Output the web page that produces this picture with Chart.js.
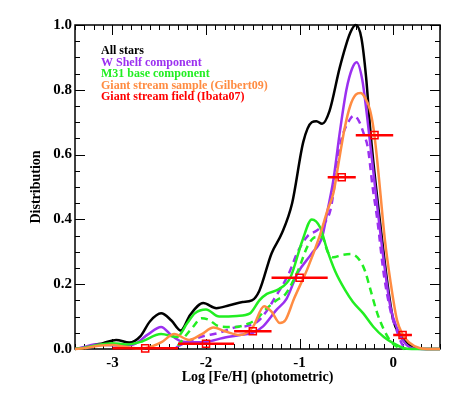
<!DOCTYPE html>
<html>
<head>
<meta charset="utf-8">
<script src="https://cdn.jsdelivr.net/npm/chart.js@4/dist/chart.umd.min.js"></script>
<style>
  html, body { margin: 0; padding: 0; background: #fff; }
</style>
</head>
<body>
<canvas id="mdfChart" width="463" height="397"></canvas>
<script>
// [Fe/H] , distribution
const allStars = [[-3.4,0],[-3.3,0.004],[-3.2,0.012],[-3.1,0.018],[-2.96,0.028],[-2.82,0.02],[-2.7,0.04],[-2.6,0.085],[-2.48,0.11],[-2.37,0.088],[-2.27,0.057],[-2.17,0.105],[-2.03,0.142],[-1.89,0.126],[-1.75,0.135],[-1.61,0.145],[-1.51,0.15],[-1.43,0.18],[-1.3,0.295],[-1.19,0.357],[-1.08,0.45],[-0.96,0.64],[-0.87,0.70],[-0.82,0.703],[-0.76,0.695],[-0.68,0.735],[-0.57,0.87],[-0.46,0.975],[-0.4,1.0],[-0.34,0.96],[-0.29,0.84],[-0.24,0.66],[-0.18,0.49],[-0.12,0.34],[-0.065,0.21],[0,0.09],[0.07,0.045],[0.15,0.018],[0.25,0.002],[0.35,0],[0.5,0]];

const wShelf = [[-3.4,0],[-3.3,0.006],[-3.2,0.014],[-3.05,0.012],[-2.9,0.01],[-2.76,0.016],[-2.62,0.045],[-2.48,0.068],[-2.37,0.042],[-2.27,0.024],[-2.15,0.021],[-2.0,0.022],[-1.82,0.034],[-1.64,0.043],[-1.5,0.05],[-1.39,0.07],[-1.25,0.12],[-1.14,0.155],[-1.02,0.235],[-0.87,0.295],[-0.76,0.345],[-0.7,0.43],[-0.64,0.52],[-0.57,0.67],[-0.5,0.8],[-0.44,0.865],[-0.39,0.885],[-0.33,0.83],[-0.28,0.72],[-0.19,0.49],[-0.1,0.27],[-0.03,0.13],[0.04,0.065],[0.1,0.028],[0.18,0.005],[0.3,0],[0.5,0]];

const wShelfAlt = [[-2.32,0.005],[-2.2,0.022],[-2.05,0.038],[-1.86,0.05],[-1.7,0.066],[-1.55,0.072],[-1.45,0.085],[-1.37,0.11],[-1.26,0.16],[-1.12,0.23],[-1.02,0.3],[-0.91,0.35],[-0.82,0.365],[-0.73,0.39],[-0.67,0.43],[-0.63,0.5],[-0.6,0.57],[-0.55,0.65],[-0.48,0.70],[-0.42,0.72],[-0.36,0.7],[-0.31,0.66],[-0.27,0.62],[-0.22,0.5],[-0.17,0.4],[-0.1,0.23],[-0.03,0.12],[0.04,0.055],[0.1,0.012],[0.16,0]];

const m31Base = [[-3.4,0],[-3.3,0.004],[-3.2,0.01],[-3.0,0.018],[-2.85,0.014],[-2.7,0.022],[-2.48,0.046],[-2.31,0.037],[-2.2,0.08],[-2.12,0.11],[-2.0,0.122],[-1.86,0.1],[-1.67,0.102],[-1.53,0.11],[-1.43,0.15],[-1.35,0.17],[-1.22,0.185],[-1.1,0.22],[-0.97,0.335],[-0.87,0.4],[-0.78,0.375],[-0.71,0.31],[-0.62,0.24],[-0.51,0.18],[-0.43,0.145],[-0.32,0.11],[-0.21,0.068],[-0.1,0.037],[0,0.018],[0.1,0.004],[0.2,0],[0.5,0]];

const m31BaseAlt = [[-2.3,0.01],[-2.22,0.04],[-2.14,0.068],[-2.05,0.095],[-1.97,0.09],[-1.86,0.07],[-1.7,0.068],[-1.55,0.078],[-1.45,0.095],[-1.37,0.12],[-1.25,0.15],[-1.15,0.17],[-1.02,0.24],[-0.91,0.32],[-0.83,0.345],[-0.76,0.345],[-0.7,0.3],[-0.64,0.283],[-0.55,0.29],[-0.45,0.293],[-0.36,0.275],[-0.3,0.24],[-0.25,0.19],[-0.17,0.11],[-0.1,0.06],[-0.03,0.025],[0.05,0.005],[0.12,0]];

const gilbert09 = [[-3.4,0],[-3.3,0.002],[-3.15,0.01],[-3.0,0.012],[-2.85,0.006],[-2.7,0.002],[-2.58,0.008],[-2.47,0.022],[-2.34,0.046],[-2.18,0.028],[-2.05,0.045],[-1.92,0.066],[-1.8,0.055],[-1.64,0.043],[-1.5,0.068],[-1.38,0.132],[-1.3,0.115],[-1.21,0.08],[-1.15,0.09],[-1.06,0.155],[-0.92,0.245],[-0.79,0.345],[-0.7,0.43],[-0.64,0.48],[-0.58,0.58],[-0.52,0.68],[-0.46,0.75],[-0.4,0.785],[-0.35,0.79],[-0.3,0.775],[-0.25,0.74],[-0.21,0.68],[-0.17,0.58],[-0.14,0.49],[-0.09,0.34],[-0.03,0.21],[0.04,0.09],[0.1,0.045],[0.17,0.02],[0.28,0.003],[0.4,0],[0.5,0]];

// Ibata07 field: bin centre, value, bin edges
const ibataX = [-2.65, -2.0, -1.5, -1.0, -0.55, -0.2, 0.1];
const ibataY = [0.002, 0.016, 0.055, 0.22, 0.53, 0.66, 0.043];
const ibataLo = [-3.0, -2.3, -1.7, -1.3, -0.7, -0.4, 0.0];
const ibataHi = [-2.3, -1.7, -1.3, -0.7, -0.4, 0.0, 0.2];

const xTickValues = [-3, -2, -1, 0];
const yTickValues = [0, 0.2, 0.4, 0.6, 0.8, 1.0];

const SERIF = "'Liberation Serif', 'Times New Roman', serif";

function toPoints(pairs) {
    return pairs.map(function (p) { return { x: p[0], y: p[1] }; });
}

function curve(label, pairs, color, dashed, order) {
    return {
        type: "scatter",
        label: label,
        data: toPoints(pairs),
        showLine: true,
        borderColor: color,
        backgroundColor: color,
        borderWidth: 2.5,
        borderDash: dashed ? [7, 5] : [],
        pointRadius: 0,
        cubicInterpolationMode: "monotone",
        clip: 4,
        order: order,
    };
}

// box with inward ticks on all four sides
const framePlugin = {
    id: "frame",
    beforeDatasetsDraw: function (chart) {
        const ctx = chart.ctx;
        const a = chart.chartArea;
        const xs = chart.scales.x;
        const ys = chart.scales.y;
        ctx.save();
        ctx.strokeStyle = "#000";
        ctx.lineWidth = 1;
        ctx.beginPath();
        for (let i = -34; i <= 5; i++) {
            const px = Math.round(xs.getPixelForValue(i / 10)) + 0.5;
            const len = i % 10 === 0 ? 10 : 5;
            ctx.moveTo(px, a.bottom); ctx.lineTo(px, a.bottom - len);
            ctx.moveTo(px, a.top); ctx.lineTo(px, a.top + len);
        }
        for (let i = 0; i <= 20; i++) {
            const py = Math.round(ys.getPixelForValue(i * 0.05)) + 0.5;
            const len = i % 4 === 0 ? 10 : 5;
            ctx.moveTo(a.left, py); ctx.lineTo(a.left + len, py);
            ctx.moveTo(a.right, py); ctx.lineTo(a.right - len, py);
        }
        ctx.stroke();
        ctx.lineWidth = 1.5;
        ctx.strokeRect(a.left, a.top, a.right - a.left, a.bottom - a.top);
        ctx.restore();
    },
    afterDatasetsDraw: function (chart) {
        const ctx = chart.ctx;
        const xs = chart.scales.x;
        const ys = chart.scales.y;
        ctx.save();
        ctx.strokeStyle = "#ff0000";
        ctx.lineWidth = 2.5;
        ctx.beginPath();
        for (let i = 0; i < ibataX.length; i++) {
            const py = ys.getPixelForValue(ibataY[i]);
            ctx.moveTo(xs.getPixelForValue(ibataLo[i]), py);
            ctx.lineTo(xs.getPixelForValue(ibataHi[i]), py);
        }
        ctx.stroke();
        ctx.restore();
    },
    afterDraw: function (chart) {
        const ctx = chart.ctx;
        const a = chart.chartArea;
        ctx.save();
        ctx.font = "bold 12px " + SERIF;
        ctx.textBaseline = "middle";
        ctx.textAlign = "left";
        let row = 0;
        chart.data.datasets.forEach(function (ds) {
            if (!ds.label) return;
            ctx.fillStyle = ds.legendColor || ds.borderColor;
            ctx.fillText(ds.label, a.left + 26, a.top + 26 + row * 11.5);
            row++;
        });
        ctx.restore();
    },
};

const ctx = document.getElementById("mdfChart").getContext("2d");

new Chart(ctx, {
    data: {
        datasets: [
            curve("All stars", allStars, "#000000", false, 6),
            curve("W Shelf component", wShelf, "#9b30f0", false, 5),
            curve("M31 base component", m31Base, "#22ee22", false, 3),
            curve("Giant stream sample (Gilbert09)", gilbert09, "#ff8c42", false, 1),
            {
                type: "scatter",
                label: "Giant stream field (Ibata07)",
                legendColor: "#ff0000",
                data: ibataX.map(function (x, i) { return { x: x, y: ibataY[i] }; }),
                pointStyle: "rect",
                pointRadius: 5,
                pointBorderWidth: 1.5,
                borderColor: "#ff0000",
                backgroundColor: "rgba(0,0,0,0)",
                clip: 6,
                order: 0,
            },
            curve("", wShelfAlt, "#9b30f0", true, 4),
            curve("", m31BaseAlt, "#22ee22", true, 2),
        ],
    },
    options: {
        responsive: false,
        animation: false,
        layout: { padding: { left: 24, top: 25, right: 23, bottom: 7 } },
        plugins: {
            legend: { display: false },
            tooltip: { enabled: false },
        },
        scales: {
            x: {
                type: "linear",
                min: -3.4,
                max: 0.5,
                afterBuildTicks: function (scale) {
                    scale.ticks = xTickValues.map(function (v) { return { value: v }; });
                },
                afterFit: function (scale) { scale.height = 41; },
                grid: { display: false, drawTicks: false },
                border: { display: false },
                ticks: {
                    color: "#000",
                    padding: 5,
                    maxRotation: 0,
                    font: { family: SERIF, size: 15, weight: "bold" },
                    callback: function (v) { return String(v); },
                },
                title: {
                    display: true,
                    text: "Log [Fe/H] (photometric)",
                    color: "#000",
                    font: { family: SERIF, size: 14, weight: "bold" },
                    padding: { top: 4, bottom: 4 },
                },
            },
            y: {
                type: "linear",
                min: 0,
                max: 1.0,
                afterBuildTicks: function (scale) {
                    scale.ticks = yTickValues.map(function (v) { return { value: v }; });
                },
                afterFit: function (scale) { scale.width = 51; },
                grid: { display: false, drawTicks: false },
                border: { display: false },
                ticks: {
                    color: "#000",
                    padding: 3,
                    font: { family: SERIF, size: 15, weight: "bold" },
                    callback: function (v) { return Number(v).toFixed(1); },
                },
                title: {
                    display: true,
                    text: "Distribution",
                    color: "#000",
                    font: { family: SERIF, size: 14, weight: "bold" },
                    padding: { top: 4, bottom: 4 },
                },
            },
        },
    },
    plugins: [framePlugin],
});
</script>
</body>
</html>
